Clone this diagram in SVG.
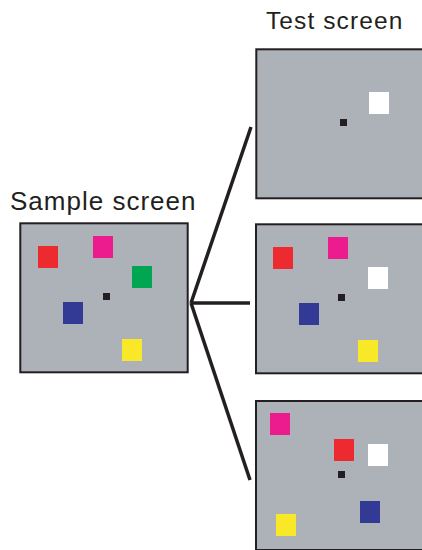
<svg xmlns="http://www.w3.org/2000/svg" width="422" height="550" viewBox="0 0 422 550">
<style>
.lbl{font-family:"Liberation Sans",Arial,sans-serif;fill:#231f20}
.scr{fill:#adb1b8;stroke:#231f20;stroke-width:2}
.red{fill:#ed2a2f}.mag{fill:#ec1c8f}.grn{fill:#00a651}.blu{fill:#333a96}.yel{fill:#f8e827}.wht{fill:#ffffff}
.fix{fill:#231f20}
.con{stroke:#231f20;stroke-width:3.5;fill:none;stroke-linecap:butt}
</style>
<rect width="422" height="550" fill="#ffffff"/>
<text class="lbl" x="10" y="209.5" font-size="26" letter-spacing="1">Sample screen</text>
<text class="lbl" x="266" y="29" font-size="24.5" letter-spacing="1.1">Test screen</text>
<g id="connectors">
<line class="con" x1="191" y1="303" x2="251" y2="127"/>
<line class="con" x1="191" y1="303" x2="250" y2="303"/>
<line class="con" x1="191" y1="303" x2="250" y2="480"/>
</g>
<g id="sample">
<rect class="scr" x="20.3" y="223.3" width="167.4" height="149"/>
<rect class="red" x="38" y="246" width="20" height="22"/>
<rect class="mag" x="93" y="236" width="20" height="22"/>
<rect class="grn" x="132" y="266" width="20" height="22"/>
<rect class="blu" x="63" y="302" width="20" height="22"/>
<rect class="yel" x="122" y="339" width="20" height="22"/>
<rect class="fix" x="103" y="293" width="7" height="7"/>
</g>
<g id="test1">
<rect class="scr" x="256.3" y="49.3" width="170" height="149"/>
<rect class="wht" x="369" y="92" width="20" height="22"/>
<rect class="fix" x="340" y="119" width="7" height="7"/>
</g>
<g id="test2">
<rect class="scr" x="256" y="224.3" width="170" height="149"/>
<rect class="red" x="273" y="247" width="20" height="22"/>
<rect class="mag" x="328" y="237" width="20" height="22"/>
<rect class="wht" x="368" y="267" width="20" height="22"/>
<rect class="blu" x="299" y="303" width="20" height="22"/>
<rect class="yel" x="358" y="340" width="20" height="22"/>
<rect class="fix" x="338" y="294" width="7" height="7"/>
</g>
<g id="test3">
<rect class="scr" x="256" y="401" width="170" height="149"/>
<rect class="mag" x="270" y="413" width="20" height="22"/>
<rect class="red" x="334" y="439" width="20" height="22"/>
<rect class="wht" x="368" y="444" width="20" height="22"/>
<rect class="blu" x="360" y="501" width="20" height="22"/>
<rect class="yel" x="276" y="514" width="20" height="22"/>
<rect class="fix" x="338" y="471" width="7" height="7"/>
</g>
</svg>
